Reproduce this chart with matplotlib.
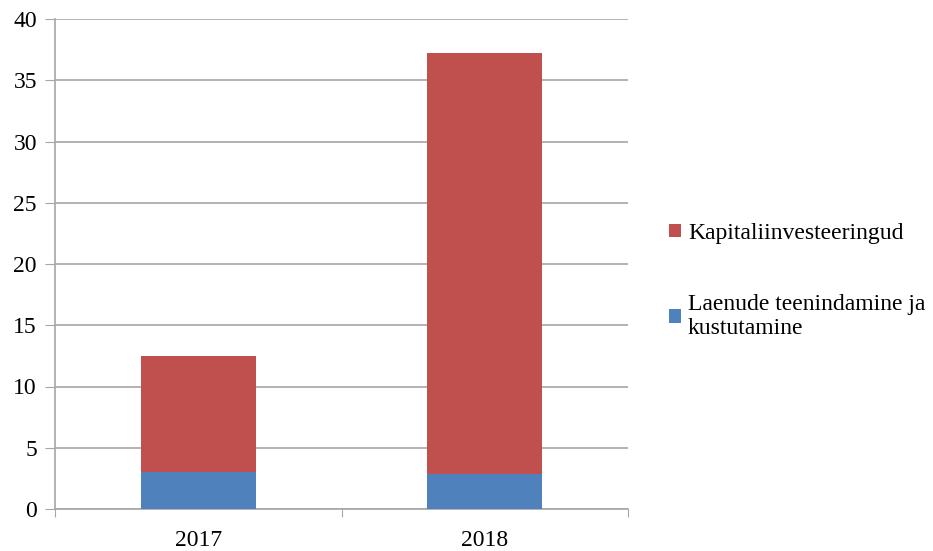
import matplotlib.pyplot as plt
import numpy as np

years = ["2017", "2018"]
laenud = [3.05, 2.87]
kapital = [9.45, 34.33]

plt.rcParams['font.family'] = ['Liberation Serif', 'DejaVu Serif']

fig = plt.figure(figsize=(9.33, 5.51), dpi=100)
ax = fig.add_axes([55 / 933, 1 - 509 / 551, (628 - 55) / 933, (509 - 19) / 551])

x = np.arange(len(years))
b1 = ax.bar(x, laenud, width=0.4, color="#4f81bd", zorder=3,
            label="Laenude teenindamine ja\nkustutamine")
b2 = ax.bar(x, kapital, width=0.4, bottom=laenud, color="#c0504d", zorder=3,
            label="Kapitaliinvesteeringud")

ax.set_xlim(-0.5, 1.5)
ax.set_ylim(0, 40)
ax.set_yticks(np.arange(0, 41, 5))
ax.yaxis.grid(True, color="#a6a6a6", linewidth=1.2, zorder=0)

# x ticks between categories, labels centered under bars
ax.set_xticks([-0.5, 0.5, 1.5])
ax.set_xticklabels([])
ax.set_xticks(x, minor=True)
ax.set_xticklabels(years, minor=True)
ax.tick_params(axis="x", which="minor", length=0, pad=15, labelsize=17)
ax.tick_params(axis="x", which="major", length=6, color="#a6a6a6")
ax.tick_params(axis="y", length=7, color="#a6a6a6", labelsize=17, pad=6)

for s in ["top", "right"]:
    ax.spines[s].set_visible(False)
for s in ["left", "bottom"]:
    ax.spines[s].set_color("#a6a6a6")
    ax.spines[s].set_linewidth(1.2)

fig.legend([b2, b1], [b2.get_label(), b1.get_label()],
           loc="upper left", bbox_to_anchor=(669 / 933, 1 - 223 / 551),
           frameon=False, handlelength=0.5, handleheight=0.5,
           handletextpad=0.3, labelspacing=2.1, borderpad=0, borderaxespad=0,
           prop={"size": 17, "family": ["Liberation Serif"]})

fig.savefig("out.png", dpi=100)
